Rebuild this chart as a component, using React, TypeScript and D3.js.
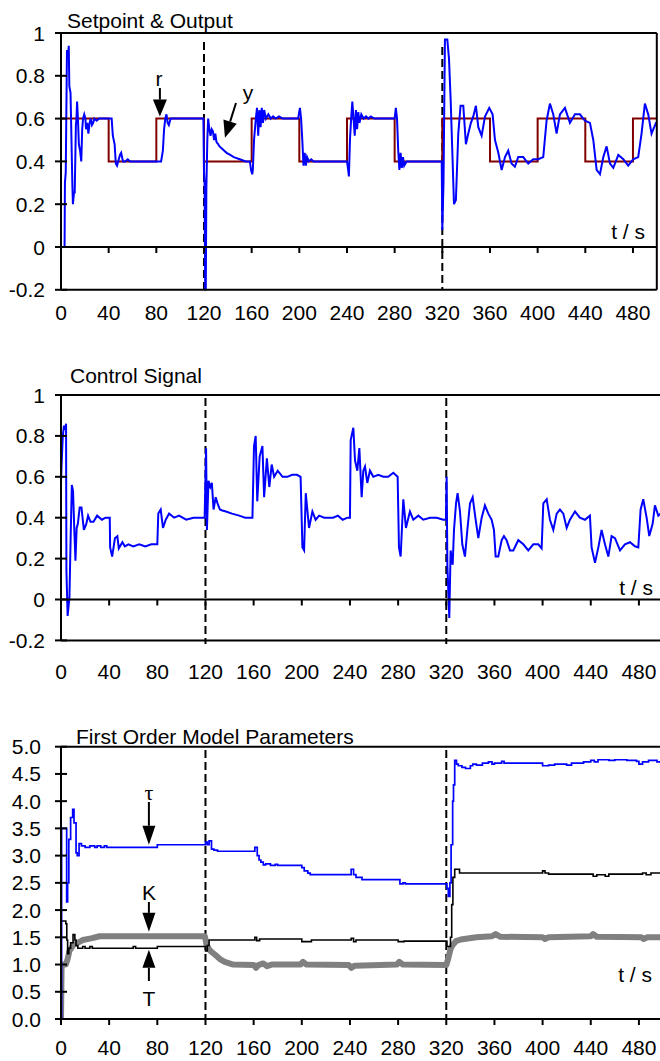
import React from 'react';
import * as d3 from 'd3';

type Pt = [number, number];

// ---------- axis ticks ----------
const timeTicks = [0, 40, 80, 120, 160, 200, 240, 280, 320, 360, 400, 440, 480];
const signalTicks = [-0.2, 0, 0.2, 0.4, 0.6, 0.8, 1];
const paramTicks = [0, 0.5, 1, 1.5, 2, 2.5, 3, 3.5, 4, 4.5, 5];
const eventTimes = [120, 320];

// ---------- setpoint r (step after) ----------
const setpointTimes = [0, 40, 80, 120, 160, 200, 240, 280, 320, 360, 400, 440, 480, 500];
const setpointValues = [0.6, 0.4, 0.6, 0.4, 0.6, 0.4, 0.6, 0.4, 0.6, 0.4, 0.6, 0.4, 0.6, 0.6];

// ---------- output y ----------
const outputPts: Pt[] = [
  [0, 0], [3, 0], [3.3, 0.3], [4, 0.35], [5, 0.92], [6, 0.9], [6.5, 0.94], [7, 0.75], [8, 0.72], [9.5, 0.3],
  [10, 0.2], [11, 0.26], [11.5, 0.25], [12.5, 0.57], [13, 0.6], [13.5, 0.68], [14.2, 0.6], [15, 0.48], [16, 0.45],
  [17, 0.4], [17.8, 0.55], [18.5, 0.6], [19.5, 0.62], [20.5, 0.6], [21, 0.55], [22, 0.58], [23, 0.53], [24, 0.58],
  [25, 0.6], [26, 0.57], [27, 0.58], [28, 0.6], [30, 0.59], [32, 0.6], [35, 0.6], [38, 0.6], [42.5, 0.6],
  [43.5, 0.52], [45, 0.48], [46, 0.39], [47, 0.38], [48, 0.4], [49.5, 0.43], [50.5, 0.44], [52, 0.4], [54, 0.4],
  [56, 0.41], [58, 0.4], [84, 0.4], [85.5, 0.45], [86.5, 0.55], [87.5, 0.6], [88.5, 0.62], [89.5, 0.58],
  [90.5, 0.57], [92, 0.6], [95, 0.6], [119.5, 0.6],
  [120, 0.35], [120.5, 0.3], [121, -0.2], [121.5, -0.2], [122, 0.28], [122.8, 0.5], [123.5, 0.6], [124.5, 0.55],
  [125.5, 0.52], [126.5, 0.55], [127.5, 0.54], [128.5, 0.5], [129.5, 0.53], [130.5, 0.49], [132, 0.48], [133, 0.47],
  [135, 0.46], [137, 0.45], [139, 0.44], [142, 0.43], [145, 0.42], [150, 0.41], [155, 0.4], [158.5, 0.4],
  [159.5, 0.36], [160.5, 0.34], [161, 0.36], [162, 0.5], [163.5, 0.6], [164.5, 0.65], [165.5, 0.52], [166.5, 0.64],
  [167.5, 0.56], [168.5, 0.65], [169.5, 0.58], [170.5, 0.64], [172, 0.6], [174, 0.62], [176, 0.6], [178, 0.61],
  [180, 0.6], [183, 0.61], [186, 0.6], [199, 0.6], [200.5, 0.65], [201.5, 0.6], [202.5, 0.5], [203.5, 0.38],
  [204.5, 0.44], [205.5, 0.38], [206.5, 0.42], [208, 0.4], [210, 0.41], [212, 0.4], [240, 0.4], [241, 0.36],
  [241.6, 0.33], [242.5, 0.5], [243.5, 0.6], [244.5, 0.68], [245.5, 0.6], [246.5, 0.52], [247.5, 0.64],
  [248.5, 0.55], [249.5, 0.63], [250.5, 0.58], [252, 0.62], [254, 0.6], [256, 0.61], [258, 0.6], [260, 0.61],
  [263, 0.6], [280, 0.6], [281, 0.65], [282, 0.6], [283, 0.45], [284, 0.36], [285, 0.44], [286, 0.37],
  [287, 0.42], [288, 0.38], [290, 0.4], [319.5, 0.4],
  [320, 0.08], [321, 0.3], [322.2, 0.97], [324.2, 0.97], [325.6, 0.88], [327, 0.69], [328.6, 0.41], [329.8, 0.2],
  [331.4, 0.22], [333.4, 0.53], [335.3, 0.66], [337.6, 0.66], [339.8, 0.48], [341.8, 0.53], [344, 0.58],
  [346, 0.61], [348.2, 0.66], [350.2, 0.56], [353, 0.52], [355.8, 0.61], [359.4, 0.65], [362.2, 0.62],
  [364.2, 0.5], [367, 0.44], [369.8, 0.36], [372.6, 0.42], [375.3, 0.45], [378.1, 0.39], [380.9, 0.375],
  [383.7, 0.42], [387.9, 0.42], [392.1, 0.39], [396.3, 0.41], [400.5, 0.41], [404.7, 0.42], [407.5, 0.59],
  [410.3, 0.67], [413.1, 0.62], [415.9, 0.53], [418.7, 0.62], [422.9, 0.65], [427.1, 0.58], [431.3, 0.62],
  [435.5, 0.62], [439.7, 0.59], [443.9, 0.58], [446.7, 0.5], [449.5, 0.36], [452.3, 0.34], [455.1, 0.42],
  [457.9, 0.47], [460.7, 0.39], [463.5, 0.37], [467.7, 0.43], [471.9, 0.41], [476, 0.38], [480.2, 0.41],
  [484.4, 0.42], [487.2, 0.53], [490, 0.67], [492.8, 0.62], [495.6, 0.53], [499.3, 0.58], [500, 0.58],
];

// ---------- control signal u ----------
const controlPts: Pt[] = [
  [0, 0.57], [0.5, 0.66], [1.5, 0.8], [2.5, 0.85], [3.5, 0.83], [4.2, 0.86], [4.5, 0.14], [5.5, -0.08], [7, 0.01],
  [8, 0.3], [9, 0.56], [10, 0.53], [11, 0.35], [12, 0.19], [13, 0.35], [14, 0.37], [15.5, 0.45], [17, 0.45],
  [19, 0.34], [21, 0.37], [22.5, 0.41], [24.5, 0.38], [27, 0.38], [30, 0.41], [34, 0.39], [37, 0.4], [40.5, 0.4],
  [40.8, 0.255], [42.5, 0.21], [44.8, 0.3], [46.8, 0.31], [48, 0.25], [51, 0.28], [53, 0.26], [56, 0.27],
  [60, 0.26], [65, 0.27], [70, 0.26], [75, 0.27], [80, 0.27],
  [80.8, 0.42], [82.8, 0.44], [84.7, 0.35], [87, 0.39], [89.8, 0.42], [94, 0.4], [98, 0.41], [104, 0.39],
  [110, 0.4], [115, 0.4], [119.3, 0.4],
  [120.5, 0.74], [121.2, 0.34], [122.5, 0.58], [124, 0.55], [125.3, 0.57], [126.7, 0.44], [128.5, 0.5],
  [130, 0.47], [132, 0.44], [134, 0.435], [137, 0.43], [142, 0.42], [148, 0.41], [153, 0.4], [159, 0.4],
  [160.3, 0.75], [161.7, 0.8], [163, 0.48], [165, 0.7], [167.3, 0.75], [168.7, 0.5], [171, 0.69], [173, 0.55],
  [175, 0.66], [177, 0.6], [180, 0.63], [184, 0.6], [188, 0.6], [192, 0.61], [196, 0.61], [199, 0.6],
  [200.5, 0.255], [201.9, 0.24], [203.3, 0.52], [206, 0.35], [208.8, 0.43], [211.5, 0.39], [214.4, 0.41],
  [218.6, 0.4], [222, 0.4], [226, 0.4], [230, 0.41], [234, 0.39], [238, 0.4], [240, 0.4],
  [240.6, 0.78], [242.8, 0.84], [244.2, 0.68], [246.1, 0.63], [247.8, 0.74], [249.7, 0.5], [251.1, 0.63],
  [252.5, 0.65], [254.4, 0.57], [256.6, 0.63], [259.4, 0.6], [263.5, 0.61], [267.7, 0.6], [271.8, 0.6],
  [276, 0.62], [279.6, 0.6],
  [280.7, 0.255], [282.1, 0.21], [284.3, 0.49], [286.5, 0.35], [289.8, 0.43], [292.6, 0.39], [296.8, 0.41],
  [300.9, 0.39], [306.5, 0.4], [312, 0.4], [317.5, 0.39], [319.7, 0.39],
  [320.3, 0.6], [320.9, 0.17], [322.5, -0.09], [323.6, 0.24], [325.3, 0.17], [326.4, 0.34], [328.1, 0.47],
  [329.4, 0.52], [331.4, 0.43], [333.3, 0.27], [335.5, 0.21], [337.5, 0.34], [339.7, 0.47], [341.9, 0.5],
  [344.4, 0.39], [346.6, 0.3], [349.4, 0.4], [352.1, 0.46], [354.9, 0.42], [357.7, 0.39], [359.6, 0.34],
  [361, 0.21], [363.2, 0.21], [366, 0.29], [367.9, 0.31], [370.1, 0.29], [372.9, 0.24], [375.7, 0.24],
  [379.8, 0.29], [384, 0.27], [388.1, 0.24], [392.3, 0.27], [396.4, 0.27], [399.2, 0.25],
  [400.6, 0.47], [403.4, 0.49], [406.1, 0.39], [408.9, 0.34], [411.7, 0.42], [414.4, 0.44], [417.2, 0.42],
  [420, 0.35], [422.7, 0.39], [426.9, 0.43], [431, 0.4], [435.2, 0.39], [439.3, 0.41],
  [440.7, 0.255], [443.5, 0.18], [446.3, 0.255], [449, 0.34], [451.8, 0.27], [454.6, 0.21], [457.3, 0.31],
  [460.1, 0.3], [464.3, 0.24], [468.4, 0.27], [472.6, 0.28], [476.7, 0.26], [479.5, 0.255],
  [481.4, 0.44], [483.6, 0.49], [486.4, 0.4], [488.6, 0.31], [491.4, 0.37], [493.3, 0.46], [496.1, 0.41],
  [500, 0.43],
];

// ---------- first order model parameters ----------
const tauPts: Pt[] = [
  [0, 0], [0.5, 3.5], [3.3, 3.5], [4.7, 2.15], [5.5, 2.5], [6.5, 3.3], [8, 3.7], [9.7, 3.85], [10.8, 3.6],
  [12.5, 3.05], [13.5, 3.0], [15, 3.22], [17, 3.18], [20, 3.15], [24, 3.18], [28, 3.15], [30, 3.18], [33, 3.15],
  [36, 3.18], [38, 3.15], [80, 3.2], [120, 3.25], [121.5, 3.2], [123, 3.27], [125, 3.12], [127, 3.1],
  [130, 3.08], [161, 3.15], [163, 3.0], [164.5, 2.92], [166, 2.88], [168, 2.83], [170, 2.85], [174, 2.82],
  [178, 2.84], [180, 2.82], [200, 2.78], [202, 2.72], [205, 2.68], [207, 2.65], [241, 2.75], [243, 2.65],
  [245, 2.6], [250, 2.56], [281.5, 2.48], [284, 2.5], [286, 2.48], [320.5, 2.4], [321.7, 2.25], [323, 2.5],
  [324, 3.2], [325.3, 4.0], [326, 4.3], [327, 4.75], [328.5, 4.68], [330, 4.65], [333, 4.62], [336, 4.6],
  [340, 4.65], [342, 4.68], [345, 4.66], [350, 4.7], [355, 4.72], [358, 4.68], [360, 4.7], [366, 4.73],
  [368, 4.7], [400, 4.65], [405, 4.66], [410, 4.68], [420, 4.66], [424, 4.7], [434, 4.72], [440, 4.75],
  [443, 4.72], [446, 4.76], [455, 4.75], [460, 4.76], [470, 4.75], [478, 4.73], [480, 4.68], [483, 4.72],
  [488, 4.75], [495, 4.72], [500, 4.72],
];

const gainPts: Pt[] = [
  [0, 0], [0.5, 1.0], [4, 1.0], [5.5, 1.1], [7, 1.25], [10, 1.35], [14, 1.4], [18, 1.45], [25, 1.48],
  [32, 1.52], [119.5, 1.52], [121, 1.35], [124, 1.25], [128, 1.18], [132, 1.1], [136, 1.05], [143, 1.0],
  [160, 0.99], [162, 0.94], [164, 0.99], [168, 1.02], [171, 0.97], [175, 1.0], [199, 1.0], [201, 1.05],
  [204, 1.0], [239, 0.99], [241, 0.94], [244, 0.98], [279, 1.0], [281, 1.05], [284, 1.0], [320, 0.99],
  [321.5, 1.1], [323.5, 1.28], [325, 1.35], [328, 1.43], [332, 1.46], [345, 1.5], [358, 1.52], [361, 1.56],
  [365, 1.51], [400, 1.5], [402, 1.47], [405, 1.5], [440, 1.52], [442, 1.56], [445, 1.51], [482, 1.5],
  [484, 1.47], [487, 1.5], [500, 1.5],
];

const timeConstPts: Pt[] = [
  [0, 1.8], [4, 1.75], [4.8, 1.45], [5.5, 1.2], [6.5, 1.3], [8, 1.4], [10, 1.55], [11.5, 1.45], [12.5, 1.35],
  [14, 1.3], [18, 1.33], [20, 1.3], [24, 1.33], [26, 1.3], [60, 1.33], [62, 1.3], [80, 1.33], [120, 1.25],
  [121.5, 1.35], [123, 1.45], [161, 1.5], [162.5, 1.44], [165, 1.47], [200, 1.42], [208, 1.45], [241, 1.48],
  [243, 1.42], [245, 1.45], [280, 1.42], [285, 1.43], [320.5, 1.33], [323.5, 1.5], [324.5, 2.1], [325.5, 2.6],
  [327, 2.75], [331, 2.68], [400, 2.72], [402, 2.68], [405, 2.66], [442, 2.62], [445, 2.65], [452, 2.62],
  [455, 2.66], [483, 2.68], [486, 2.65], [490, 2.68], [500, 2.68],
];

const FONT = "'Liberation Sans', Arial, Helvetica, sans-serif";
const TICK_FS = 21;

function Arrow({ tx, ty, fx, fy, head = 17, width = 13 }: { tx: number; ty: number; fx: number; fy: number; head?: number; width?: number }) {
  const dx = tx - fx, dy = ty - fy;
  const len = Math.hypot(dx, dy);
  const ux = dx / len, uy = dy / len;
  const bx = tx - ux * head, by = ty - uy * head;
  const px = -uy * width / 2, py = ux * width / 2;
  return (
    <g>
      <line x1={fx} y1={fy} x2={bx} y2={by} stroke="#000" strokeWidth={2} />
      <polygon points={`${tx},${ty} ${bx + px},${by + py} ${bx - px},${by - py}`} fill="#000" />
    </g>
  );
}

export default function App() {
  const x1 = d3.scaleLinear().domain([0, 500]).range([61, 656.8]);
  const y1 = d3.scaleLinear().domain([-0.2, 1]).range([289.8, 33]);
  const x2 = d3.scaleLinear().domain([0, 500]).range([61, 663]);
  const y2 = d3.scaleLinear().domain([-0.2, 1]).range([640.4, 395]);
  const x3 = d3.scaleLinear().domain([0, 500]).range([61, 663]);
  const y3 = d3.scaleLinear().domain([0, 5]).range([1019, 746.7]);

  const setpointPts: Pt[] = setpointTimes.map((t, i) => [t, setpointValues[i]]);

  const lin = (x: d3.ScaleLinear<number, number>, y: d3.ScaleLinear<number, number>, curve: d3.CurveFactory = d3.curveLinear) =>
    d3.line<Pt>().x(d => x(d[0])).y(d => y(d[1])).curve(curve);

  const fmtSig = (v: number) => String(Number(v.toFixed(1)));
  const fmtPar = (v: number) => v.toFixed(1);

  const axisW = 2;

  return (
    <svg width={660} height={1061} style={{ position: 'absolute', left: 0, top: 0, background: '#fff' }} fontFamily={FONT}>
      <rect x={0} y={0} width={660} height={1061} fill="#fff" />
      <defs>
        <clipPath id="c1"><rect x={x1(0)} y={y1(1) - 2} width={x1(500) - x1(0)} height={y1(-0.2) - y1(1) + 3} /></clipPath>
        <clipPath id="c2"><rect x={x2(0)} y={y2(1) - 2} width={660} height={y2(-0.2) - y2(1) + 3} /></clipPath>
        <clipPath id="c3"><rect x={x3(0)} y={y3(5) - 2} width={660} height={y3(0) - y3(5) + 3} /></clipPath>
      </defs>

      {/* ================= Panel 1 ================= */}
      <text x={67} y={28} fontSize={21}>Setpoint &amp; Output</text>
      {eventTimes.map((t, i) => (
        <line key={t} x1={x1(t)} x2={x1(t)} y1={i === 0 ? 42 : 47} y2={y1(-0.2)} stroke="#000" strokeWidth={2} strokeDasharray="8,4" />
      ))}
      <g clipPath="url(#c1)">
        <path d={lin(x1, y1, d3.curveStepAfter)(setpointPts) || ''} fill="none" stroke="#800000" strokeWidth={2} />
        <path d={lin(x1, y1)(outputPts) || ''} fill="none" stroke="#0000ff" strokeWidth={2} />
      </g>
      <line x1={x1(0)} x2={x1(500)} y1={y1(1)} y2={y1(1)} stroke="#000" strokeWidth={axisW} />
      <line x1={x1(0)} x2={x1(500)} y1={y1(-0.2)} y2={y1(-0.2)} stroke="#000" strokeWidth={axisW} />
      <line x1={x1(0)} x2={x1(500)} y1={y1(0)} y2={y1(0)} stroke="#000" strokeWidth={axisW} />
      <line x1={x1(500)} x2={x1(500)} y1={y1(1)} y2={y1(-0.2)} stroke="#000" strokeWidth={axisW} />
      <line x1={x1(0)} x2={x1(0)} y1={y1(1)} y2={y1(-0.2)} stroke="#000" strokeWidth={axisW} />
      {signalTicks.map(v => (
        <g key={v}>
          <line x1={x1(0) - 6} x2={x1(0) + 6} y1={y1(v)} y2={y1(v)} stroke="#000" strokeWidth={axisW} />
          <text x={45} y={y1(v) + 7.5} fontSize={TICK_FS} textAnchor="end">{fmtSig(v)}</text>
        </g>
      ))}
      {timeTicks.map(t => (
        <g key={t}>
          <line x1={x1(t)} x2={x1(t)} y1={y1(0)} y2={y1(0) + 6} stroke="#000" strokeWidth={axisW} />
          <text x={x1(t)} y={320} fontSize={TICK_FS} textAnchor="middle">{t}</text>
        </g>
      ))}
      <text x={645} y={239} fontSize={21} textAnchor="end">t / s</text>
      <text x={159} y={86} fontSize={21} textAnchor="middle">r</text>
      <Arrow tx={x1(83)} ty={y1(0.6) - 2} fx={x1(83)} fy={88} head={17} width={14} />
      <text x={248} y={100} fontSize={21} textAnchor="middle">y</text>
      <Arrow tx={x1(137.6)} ty={y1(0.51)} fx={236} fy={103} head={17} width={14} />

      {/* ================= Panel 2 ================= */}
      <text x={70} y={383} fontSize={21}>Control Signal</text>
      {eventTimes.map(t => (
        <line key={t} x1={x2(t)} x2={x2(t)} y1={398} y2={644} stroke="#000" strokeWidth={2} strokeDasharray="8,4" />
      ))}
      <g clipPath="url(#c2)">
        <path d={lin(x2, y2)(controlPts) || ''} fill="none" stroke="#0000ff" strokeWidth={2} />
      </g>
      <line x1={x2(0)} x2={660} y1={y2(1)} y2={y2(1)} stroke="#000" strokeWidth={axisW} />
      <line x1={x2(0)} x2={660} y1={y2(-0.2)} y2={y2(-0.2)} stroke="#000" strokeWidth={axisW} />
      <line x1={x2(0)} x2={660} y1={y2(0)} y2={y2(0)} stroke="#000" strokeWidth={axisW} />
      <line x1={x2(0)} x2={x2(0)} y1={y2(1)} y2={y2(-0.2)} stroke="#000" strokeWidth={axisW} />
      {signalTicks.map(v => (
        <g key={v}>
          <line x1={x2(0) - 6} x2={x2(0) + 6} y1={y2(v)} y2={y2(v)} stroke="#000" strokeWidth={axisW} />
          <text x={45} y={y2(v) + 7.5} fontSize={TICK_FS} textAnchor="end">{fmtSig(v)}</text>
        </g>
      ))}
      {timeTicks.map(t => (
        <g key={t}>
          <line x1={x2(t)} x2={x2(t)} y1={y2(0)} y2={y2(0) + 6} stroke="#000" strokeWidth={axisW} />
          <text x={x2(t)} y={679} fontSize={TICK_FS} textAnchor="middle">{t}</text>
        </g>
      ))}
      <text x={653} y={595} fontSize={21} textAnchor="end">t / s</text>

      {/* ================= Panel 3 ================= */}
      <text x={76} y={744} fontSize={21}>First Order Model Parameters</text>
      {eventTimes.map(t => (
        <line key={t} x1={x3(t)} x2={x3(t)} y1={750} y2={y3(0)} stroke="#000" strokeWidth={2} strokeDasharray="8,4" />
      ))}
      <g clipPath="url(#c3)">
        <path d={lin(x3, y3)(gainPts) || ''} fill="none" stroke="#808080" strokeWidth={6} strokeLinejoin="round" />
        <path d={lin(x3, y3, d3.curveStepAfter)(timeConstPts) || ''} fill="none" stroke="#000" strokeWidth={1.6} />
        <path d={lin(x3, y3, d3.curveStepAfter)(tauPts) || ''} fill="none" stroke="#0000ff" strokeWidth={1.7} />
      </g>
      <line x1={x3(0)} x2={660} y1={y3(5)} y2={y3(5)} stroke="#000" strokeWidth={axisW} />
      <line x1={x3(0)} x2={660} y1={y3(0)} y2={y3(0)} stroke="#000" strokeWidth={axisW} />
      <line x1={x3(0)} x2={x3(0)} y1={y3(5)} y2={y3(0)} stroke="#000" strokeWidth={axisW} />
      {paramTicks.map(v => (
        <g key={v}>
          <line x1={x3(0) - 6} x2={x3(0) + 6} y1={y3(v)} y2={y3(v)} stroke="#000" strokeWidth={axisW} />
          <text x={41} y={y3(v) + 7.5} fontSize={TICK_FS} textAnchor="end">{fmtPar(v)}</text>
        </g>
      ))}
      {timeTicks.map(t => (
        <g key={t}>
          <line x1={x3(t)} x2={x3(t)} y1={y3(0)} y2={y3(0) + 6} stroke="#000" strokeWidth={axisW} />
          <text x={x3(t)} y={1055} fontSize={TICK_FS} textAnchor="middle">{t}</text>
        </g>
      ))}
      <text x={652} y={982} fontSize={21} textAnchor="end">t / s</text>
      <text x={149} y={800} fontSize={22} textAnchor="middle" fontFamily="'Liberation Serif', 'Times New Roman', serif">τ</text>
      <Arrow tx={x3(73)} ty={y3(3.2)} fx={x3(73)} fy={802} head={19} width={13} />
      <text x={149} y={900} fontSize={21} textAnchor="middle">K</text>
      <Arrow tx={x3(73)} ty={y3(1.6)} fx={x3(73)} fy={902} head={19} width={13} />
      <Arrow tx={x3(73)} ty={y3(1.27)} fx={x3(73)} fy={981} head={18} width={13} />
      <text x={149} y={1006} fontSize={21} textAnchor="middle">T</text>
    </svg>
  );
}
